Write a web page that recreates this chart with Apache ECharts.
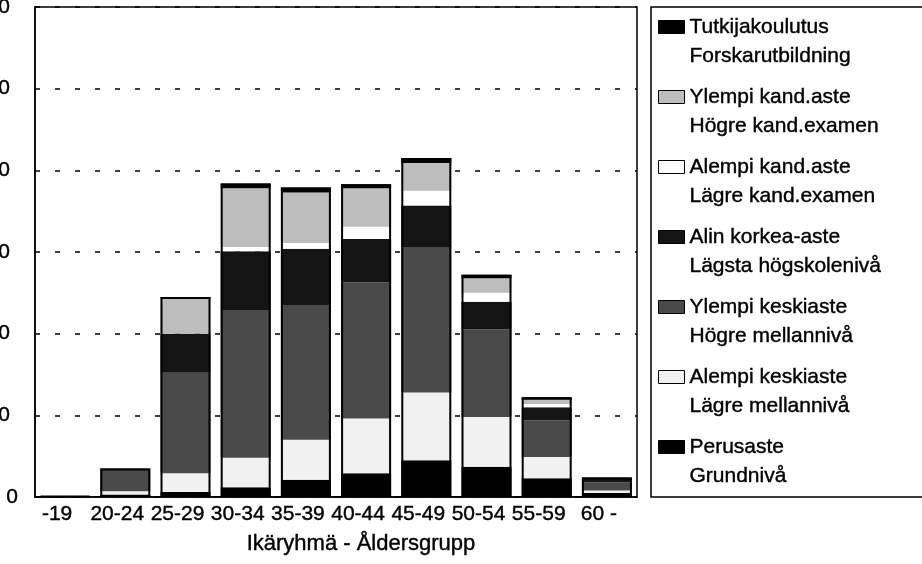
<!DOCTYPE html>
<html>
<head>
<meta charset="utf-8">
<script src="https://cdn.jsdelivr.net/npm/echarts@6/dist/echarts.min.js"></script>
<style>
html,body{margin:0;padding:0;background:#fff}
#chart{width:922px;height:564px}
</style>
</head>
<body>
<div id="chart"></div>
<script>
// ikäryhmät - åldersgrupper
var ageGroups = ['-19', '20-24', '25-29', '30-34', '35-39', '40-44', '45-49', '50-54', '55-59', '60 -'];

// koulutusaste, alimmasta ylimpään
var perusaste   = [1, 3, 6, 12, 21, 29, 45, 37, 23, 5];
var alempiKeski = [0, 4, 23, 36, 49, 67, 83, 61, 26, 3];
var ylempiKeski = [0, 26, 123, 181, 165, 167, 178, 107, 45, 10];
var alinKorkea  = [0, 2, 48, 72, 69, 53, 51, 34, 16, 4];
var alempiKand  = [0, 0, 0, 5, 7, 15, 18, 11, 4, 0];
var ylempiKand  = [0, 0, 43, 72, 62, 47, 34, 18, 5, 1];
var tutkija     = [0, 0, 2, 6, 6, 5, 6, 4, 3, 1];

var fiNames = ['Perusaste', 'Alempi keskiaste', 'Ylempi keskiaste', 'Alin korkea-aste', 'Alempi kand.aste', 'Ylempi kand.aste', 'Tutkijakoulutus'];
var svNames = ['Grundnivå', 'Lägre mellannivå', 'Högre mellannivå', 'Lägsta högskolenivå', 'Lägre kand.examen', 'Högre kand.examen', 'Forskarutbildning'];
var fills   = ['#000000', '#f1f1f1', '#4a4a4a', '#141414', '#ffffff', '#bdbdbd', '#000000'];

var yMin = 0;
var yMax = 600;
var yStep = 100;

var FONT = 'Liberation Sans, Arial, sans-serif';
var LH = 29; // selitteen rivikorkeus

var levels = [perusaste, alempiKeski, ylempiKeski, alinKorkea, alempiKand, ylempiKand, tutkija];

// pinon kokonaiskorkeus ääriviivaa varten
var totals = [];
for (var i = 0; i < ageGroups.length; i++) {
    var s = 0;
    for (var j = 0; j < levels.length; j++) s += levels[j][i];
    totals.push(s);
}

var series = [];
for (var k = 0; k < levels.length; k++) {
    series.push({
        name: fiNames[k],
        type: 'bar',
        stack: 'koulutus',
        barWidth: 50,
        data: levels[k],
        itemStyle: { color: fills[k] }
    });
}
// musta reunus koko pylvään ympäri
series.push({
    name: 'yhteensä',
    type: 'bar',
    barWidth: 50,
    barGap: '-100%',
    silent: true,
    z: 5,
    data: totals,
    itemStyle: { color: 'rgba(0,0,0,0)', borderColor: '#000', borderWidth: 2 }
});

// selitteen kuvake ensimmäisen rivin kohdalle (näkymättömät pisteet venyttävät laatikon)
var iconTop = LH / 2 - 6.5;
var legendIcon = 'path://M0,0 M0,' + (2 * LH) + ' M0,' + iconTop + ' L26,' + iconTop + ' L26,' + (iconTop + 13) + ' L0,' + (iconTop + 13) + ' Z';

var txt = { fontFamily: FONT, color: '#000', textBorderColor: '#000', textBorderWidth: 0.4 };

var chart = echarts.init(document.getElementById('chart'));

var option = {
    animation: false,
    backgroundColor: '#fff',
    textStyle: { fontFamily: FONT, color: '#000' },
    grid: {
        left: 35, right: 285, top: 7, bottom: 67,
        outerBoundsMode: 'none',
        containLabel: false,
        show: true, borderColor: '#000', borderWidth: 1.5
    },
    graphic: [{
        type: 'rect',
        shape: { x: 651, y: 7, width: 300, height: 490 },
        style: { fill: 'none', stroke: '#000', lineWidth: 1.5 },
        z: 0
    }],
    legend: {
        orient: 'vertical',
        left: 658,
        top: 12,
        padding: 0,
        itemGap: 11,
        itemWidth: 26,
        itemHeight: 2 * LH,
        icon: legendIcon,
        data: fiNames.slice().reverse(),
        itemStyle: { borderColor: '#000', borderWidth: 1 },
        formatter: function (name) {
            return name + '\n' + svNames[fiNames.indexOf(name)];
        },
        textStyle: Object.assign({ fontSize: 21, lineHeight: LH }, txt)
    },
    xAxis: {
        type: 'category',
        data: ageGroups,
        name: 'Ikäryhmä - Åldersgrupp',
        nameLocation: 'middle',
        nameGap: 36,
        nameTextStyle: Object.assign({ fontSize: 22, padding: [0, 0, 0, 50] }, txt),
        axisLine: { lineStyle: { color: '#000', width: 1.5 } },
        axisTick: { show: false },
        axisLabel: Object.assign({
            fontSize: 21, margin: 7, interval: 0, padding: [0, 16, 0, 0]
        }, txt)
    },
    yAxis: {
        type: 'value',
        min: yMin,
        max: yMax,
        interval: yStep,
        axisLine: { show: true, lineStyle: { color: '#000', width: 1.5 } },
        axisTick: { show: false },
        splitLine: { lineStyle: { color: '#000', width: 1.5, type: [5, 15] } },
        axisLabel: Object.assign({
            fontSize: 21, margin: 17, align: 'right',
            formatter: function (v) {
                return v === 0 ? '0' : '{n|' + v + '}';
            },
            rich: { n: Object.assign({ fontSize: 21, padding: [0, 8, 0, 0] }, txt) }
        }, txt)
    },
    series: series
};

chart.setOption(option);
</script>
</body>
</html>
